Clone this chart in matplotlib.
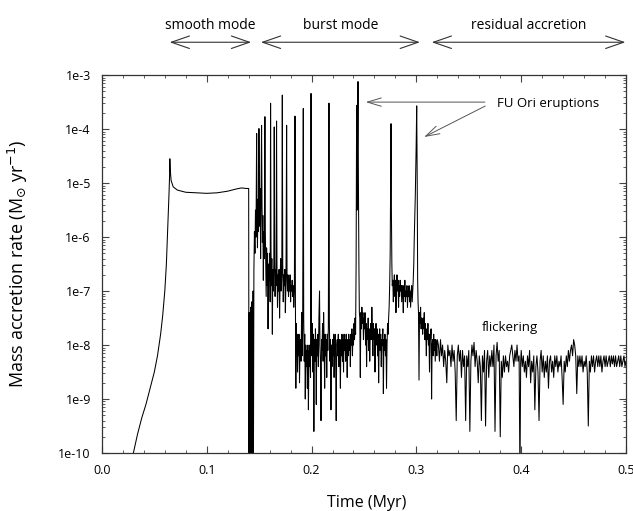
import numpy as np
import matplotlib
matplotlib.use("Agg")
import matplotlib.pyplot as plt
from matplotlib.ticker import MultipleLocator, LogLocator, NullFormatter
import matplotlib.transforms as mtransforms

# (time in Myr, log10 of accretion rate in Msun/yr)
smooth_pts = [
    (0.030, -10.0), (0.034, -9.65), (0.038, -9.35), (0.042, -9.1), (0.046, -8.8),
    (0.050, -8.5), (0.053, -8.2), (0.056, -7.8), (0.058, -7.45), (0.060, -7.0),
    (0.0615, -6.5), (0.0625, -6.0), (0.0635, -5.5), (0.064, -5.2), (0.0645, -4.9),
    (0.0648, -4.55), (0.0652, -4.75), (0.066, -4.95), (0.068, -5.07), (0.072, -5.13),
    (0.080, -5.17), (0.090, -5.18), (0.100, -5.19), (0.110, -5.18), (0.120, -5.15),
    (0.128, -5.11), (0.133, -5.09), (0.138, -5.10), (0.1400, -5.10), (0.1402, -10.5),
]

burst_pts = [
    (0.1403, -10.5), (0.1406, -7.4), (0.1409, -10.5), (0.1412, -7.6), (0.1415, -10.5),
    (0.1418, -7.3), (0.1421, -10.5), (0.1424, -7.5), (0.1427, -10.5), (0.1430, -7.2),
    (0.1433, -10.5), (0.1436, -7.4), (0.1439, -10.5), (0.1442, -7.0), (0.1445, -10.5),
    (0.1450, -6.6), (0.1455, -5.9), (0.1460, -6.3), (0.1465, -5.5), (0.1470, -6.0),
    (0.1476, -4.08), (0.1480, -5.6), (0.1484, -6.2), (0.1488, -5.3), (0.1493, -5.9),
    (0.1498, -3.99), (0.1502, -5.2), (0.1506, -5.8), (0.1510, -5.1), (0.1514, -6.4),
    (0.1518, -5.4), (0.1523, -3.93), (0.1527, -5.3), (0.1531, -6.1), (0.1535, -5.6),
    (0.1540, -6.8), (0.1544, -5.9), (0.1549, -6.4), (0.1555, -3.77), (0.1559, -5.9),
    (0.1563, -6.5), (0.1567, -7.1), (0.1571, -6.2), (0.1576, -6.9), (0.1580, -6.3),
    (0.1585, -7.7), (0.1590, -6.5), (0.1595, -6.8), (0.1600, -6.3), (0.1605, -7.2),
    (0.1609, -3.52), (0.1613, -6.2), (0.1617, -6.9), (0.1621, -6.4), (0.1626, -7.8),
    (0.1630, -6.6), (0.1635, -7.0), (0.1640, -6.5), (0.1644, -3.96), (0.1648, -6.4),
    (0.1652, -7.1), (0.1656, -6.6), (0.1661, -6.9), (0.1666, -3.85), (0.1670, -6.5),
    (0.1675, -7.3), (0.1680, -6.7), (0.1685, -7.0), (0.1690, -6.6), (0.1695, -7.5),
    (0.1700, -6.8), (0.1705, -6.4), (0.1710, -7.0), (0.1716, -6.7), (0.1721, -3.37),
    (0.1725, -6.5), (0.1730, -7.2), (0.1735, -6.7), (0.1740, -6.9), (0.1745, -6.6),
    (0.1750, -7.4), (0.1756, -6.8), (0.1762, -3.93), (0.1766, -6.7), (0.1770, -7.0),
    (0.1775, -6.7), (0.1780, -7.1), (0.1785, -6.8), (0.1790, -7.0), (0.1795, -6.7),
    (0.1800, -7.2), (0.1805, -6.9), (0.1810, -7.0), (0.1815, -6.8), (0.1820, -7.1),
    (0.1825, -6.9), (0.1830, -7.3), (0.1836, -7.0), (0.1842, -3.76), (0.1846, -7.2),
    (0.1850, -8.8), (0.1854, -7.6), (0.1858, -8.0), (0.1862, -7.8), (0.1866, -8.5),
    (0.1870, -7.9), (0.1875, -8.2), (0.1880, -7.8), (0.1885, -8.7), (0.1890, -8.0),
    (0.1895, -7.9), (0.1900, -8.3), (0.1905, -7.4), (0.1910, -8.2), (0.1915, -7.7),
    (0.1921, -3.62), (0.1925, -7.5), (0.1930, -8.3), (0.1935, -7.8), (0.1940, -9.0),
    (0.1945, -8.0), (0.1950, -8.4), (0.1955, -8.1), (0.1960, -8.8), (0.1965, -8.0),
    (0.1970, -9.2), (0.1975, -8.1), (0.1980, -8.4), (0.1985, -8.0), (0.1990, -8.6),
    (0.1995, -3.34), (0.1999, -7.7), (0.2003, -8.2), (0.2008, -7.6), (0.2012, -8.5),
    (0.2017, -7.8), (0.2022, -9.6), (0.2027, -7.9), (0.2032, -8.3), (0.2037, -7.7),
    (0.2040, -8.0), (0.2045, -9.1), (0.2050, -7.9), (0.2055, -8.2), (0.2060, -7.8),
    (0.2065, -8.4), (0.2070, -7.5), (0.2076, -7.0), (0.2080, -8.0), (0.2085, -8.3),
    (0.2090, -9.4), (0.2095, -7.9), (0.2100, -8.1), (0.2105, -7.6), (0.2110, -8.3),
    (0.2115, -7.4), (0.2120, -8.0), (0.2125, -8.8), (0.2130, -7.8), (0.2135, -8.2),
    (0.2140, -7.9), (0.2145, -8.6), (0.2150, -7.8), (0.2155, -8.1), (0.2160, -7.7),
    (0.2166, -3.52), (0.2170, -7.6), (0.2175, -8.3), (0.2180, -7.9), (0.2185, -9.2),
    (0.2190, -8.0), (0.2195, -8.4), (0.2200, -7.9), (0.2205, -8.2), (0.2210, -7.8),
    (0.2215, -8.6), (0.2220, -8.0), (0.2225, -7.8), (0.2230, -8.3), (0.2235, -9.4),
    (0.2240, -8.0), (0.2245, -7.9), (0.2250, -8.2), (0.2255, -7.8), (0.2260, -8.4),
    (0.2265, -7.9), (0.2270, -8.1), (0.2275, -8.8), (0.2280, -7.9), (0.2285, -8.2),
    (0.2290, -7.8), (0.2295, -8.3), (0.2300, -7.9), (0.2305, -8.5), (0.2310, -7.8),
    (0.2315, -8.1), (0.2320, -7.9), (0.2325, -8.3), (0.2330, -7.8), (0.2335, -8.0),
    (0.2340, -8.6), (0.2345, -7.9), (0.2350, -8.2), (0.2355, -7.8), (0.2360, -8.1),
    (0.2365, -7.9), (0.2370, -8.4), (0.2375, -7.8), (0.2380, -8.0), (0.2385, -7.7),
    (0.2390, -8.2), (0.2395, -7.8), (0.2400, -8.0), (0.2405, -7.6), (0.2410, -7.9),
    (0.2415, -7.5), (0.2420, -7.8), (0.2425, -6.5), (0.2430, -3.56), (0.2434, -5.5),
    (0.2437, -4.8), (0.2440, -3.9), (0.2443, -3.12), (0.2447, -5.0), (0.2452, -6.6),
    (0.2456, -7.4), (0.2460, -7.5), (0.2465, -8.6), (0.2470, -7.4), (0.2475, -7.7),
    (0.2480, -7.3), (0.2485, -7.6), (0.2490, -7.4), (0.2495, -7.9), (0.2500, -7.5),
    (0.2505, -7.7), (0.2510, -7.4), (0.2515, -8.0), (0.2520, -7.6), (0.2525, -8.4),
    (0.2530, -7.7), (0.2535, -7.9), (0.2540, -7.5), (0.2545, -8.1), (0.2550, -7.7),
    (0.2555, -8.3), (0.2560, -7.8), (0.2565, -7.6), (0.2570, -7.9), (0.2575, -7.3),
    (0.2580, -7.7), (0.2585, -8.2), (0.2590, -7.6), (0.2595, -7.9), (0.2600, -7.7),
    (0.2605, -8.5), (0.2610, -7.8), (0.2615, -7.6), (0.2620, -8.0), (0.2625, -7.7),
    (0.2630, -8.2), (0.2635, -7.8), (0.2640, -8.7), (0.2645, -7.9), (0.2650, -7.7),
    (0.2655, -8.1), (0.2660, -7.8), (0.2665, -8.4), (0.2670, -7.9), (0.2675, -8.0),
    (0.2680, -7.7), (0.2685, -8.9), (0.2690, -7.9), (0.2695, -8.1), (0.2700, -7.8),
    (0.2705, -8.2), (0.2710, -7.9), (0.2715, -8.8), (0.2720, -8.0), (0.2725, -7.6),
    (0.2730, -7.8), (0.2735, -7.5), (0.2740, -7.3), (0.2745, -6.9), (0.2750, -6.3),
    (0.2755, -4.8), (0.2758, -3.90), (0.2762, -5.6), (0.2766, -6.5), (0.2770, -6.9),
    (0.2775, -6.8), (0.2780, -7.2), (0.2785, -6.9), (0.2790, -6.7), (0.2795, -7.1),
    (0.2800, -6.8), (0.2805, -7.4), (0.2810, -6.9), (0.2815, -6.7), (0.2820, -7.0),
    (0.2825, -6.8), (0.2830, -7.3), (0.2835, -6.9), (0.2840, -7.1), (0.2845, -6.8),
    (0.2850, -7.0), (0.2855, -6.9), (0.2860, -7.2), (0.2865, -6.9), (0.2870, -7.0),
    (0.2875, -7.4), (0.2880, -6.9), (0.2885, -7.1), (0.2890, -6.8), (0.2895, -7.2),
    (0.2900, -7.0), (0.2905, -7.1), (0.2910, -6.9), (0.2915, -7.3), (0.2920, -7.0),
    (0.2925, -7.1), (0.2930, -6.9), (0.2935, -7.2), (0.2940, -7.0), (0.2945, -7.3),
    (0.2950, -7.0), (0.2955, -6.9), (0.2960, -7.2), (0.2965, -7.0), (0.2970, -6.8),
    (0.2975, -6.5), (0.2980, -6.0), (0.2990, -5.2), (0.2998, -4.3), (0.3003, -3.57),
    (0.3008, -5.0), (0.3012, -6.8), (0.3016, -7.2), (0.3020, -7.4), (0.3025, -8.65),
    (0.3030, -7.4), (0.3035, -7.6), (0.3040, -7.3), (0.3045, -7.7), (0.3050, -7.5),
    (0.3055, -7.6), (0.3060, -7.8), (0.3065, -7.5), (0.3070, -7.7), (0.3075, -7.4),
    (0.3080, -7.9), (0.3085, -7.6), (0.3090, -7.8), (0.3095, -8.2), (0.3100, -7.7),
    (0.3105, -7.9), (0.3110, -7.6), (0.3115, -8.0), (0.3120, -7.8), (0.3125, -8.5),
    (0.3130, -7.8), (0.3135, -7.9), (0.3140, -7.7), (0.3145, -9.0), (0.3150, -8.0),
    (0.3155, -7.9), (0.3160, -8.2), (0.3165, -7.8), (0.3170, -8.1), (0.3175, -7.9),
    (0.3180, -8.3), (0.3185, -7.9), (0.3190, -8.0), (0.3195, -8.2), (0.3200, -7.9),
]

residual_pts = [
    (0.321, -8.0), (0.322, -8.3), (0.323, -7.9), (0.324, -8.2), (0.325, -8.0),
    (0.326, -8.4), (0.327, -8.1), (0.328, -8.3), (0.329, -8.7), (0.330, -8.0),
    (0.331, -8.2), (0.332, -8.1), (0.333, -8.4), (0.334, -8.0), (0.335, -8.3),
    (0.336, -8.1), (0.337, -8.5), (0.338, -9.4), (0.339, -8.2), (0.340, -8.0),
    (0.341, -8.3), (0.342, -8.1), (0.343, -8.6), (0.344, -8.1), (0.345, -8.4),
    (0.346, -8.2), (0.347, -9.4), (0.348, -8.2), (0.349, -8.4), (0.350, -8.1),
    (0.351, -9.6), (0.352, -8.3), (0.353, -8.0), (0.354, -8.2), (0.355, -7.95),
    (0.356, -8.4), (0.357, -8.1), (0.358, -8.3), (0.359, -8.7), (0.360, -8.2),
    (0.361, -8.4), (0.362, -9.4), (0.363, -8.2), (0.364, -8.5), (0.365, -8.1),
    (0.366, -9.5), (0.367, -8.3), (0.368, -8.1), (0.369, -8.6), (0.370, -8.2),
    (0.371, -8.4), (0.372, -8.1), (0.373, -8.4), (0.374, -8.0), (0.375, -9.6),
    (0.376, -8.2), (0.377, -7.95), (0.378, -8.3), (0.379, -8.1), (0.380, -9.7),
    (0.381, -8.3), (0.382, -8.6), (0.383, -8.2), (0.384, -8.5), (0.385, -8.2),
    (0.386, -8.4), (0.387, -8.3), (0.388, -8.5), (0.389, -8.2), (0.390, -8.1),
    (0.391, -8.0), (0.392, -8.2), (0.393, -8.4), (0.394, -8.1), (0.395, -8.3),
    (0.396, -8.0), (0.397, -8.3), (0.398, -8.2), (0.3988, -10.5), (0.3995, -8.3),
    (0.400, -8.1), (0.401, -8.4), (0.402, -8.2), (0.403, -8.5), (0.404, -8.3),
    (0.405, -8.6), (0.406, -8.2), (0.407, -8.4), (0.408, -8.1), (0.409, -8.7),
    (0.410, -8.3), (0.411, -8.5), (0.412, -8.2), (0.413, -9.2), (0.414, -8.4),
    (0.415, -8.2), (0.416, -8.5), (0.417, -9.4), (0.418, -8.3), (0.419, -8.1),
    (0.420, -8.5), (0.421, -8.2), (0.422, -8.6), (0.423, -8.3), (0.424, -8.5),
    (0.425, -8.2), (0.426, -8.8), (0.427, -8.3), (0.428, -8.2), (0.429, -8.5),
    (0.430, -8.3), (0.431, -8.6), (0.432, -8.2), (0.433, -8.4), (0.434, -8.2),
    (0.435, -8.5), (0.436, -8.3), (0.437, -8.4), (0.438, -8.2), (0.439, -8.6),
    (0.440, -9.1), (0.441, -8.3), (0.442, -8.5), (0.443, -8.2), (0.444, -8.4),
    (0.445, -8.1), (0.446, -8.3), (0.447, -8.1), (0.448, -8.0), (0.449, -8.2),
    (0.450, -7.9), (0.451, -8.0), (0.452, -8.2), (0.453, -8.9), (0.454, -8.2),
    (0.455, -8.4), (0.456, -8.2), (0.457, -8.4), (0.458, -8.2), (0.459, -8.5),
    (0.460, -8.3), (0.461, -8.4), (0.462, -8.2), (0.463, -8.5), (0.464, -9.5),
    (0.465, -8.3), (0.466, -8.5), (0.467, -8.2), (0.468, -8.4), (0.469, -8.2),
    (0.470, -8.5), (0.471, -8.3), (0.472, -8.2), (0.473, -8.4), (0.474, -8.2),
    (0.475, -8.4), (0.476, -8.2), (0.477, -8.5), (0.478, -8.3), (0.479, -8.2),
    (0.480, -8.4), (0.481, -8.2), (0.482, -8.4), (0.483, -8.3), (0.484, -8.2),
    (0.485, -8.4), (0.486, -8.2), (0.487, -8.35), (0.488, -8.2), (0.489, -8.4),
    (0.490, -8.2), (0.491, -8.4), (0.492, -8.3), (0.493, -8.2), (0.494, -8.4),
    (0.495, -8.2), (0.496, -8.4), (0.497, -8.3), (0.498, -8.2), (0.499, -8.4),
    (0.500, -8.3),
]

ytick_vals = [1e-10, 1e-9, 1e-8, 1e-7, 1e-6, 1e-5, 1e-4, 1e-3]
ytick_labels = ['1e-10', '1e-9', '1e-8', '1e-7', '1e-6', '1e-5', '1e-4', '1e-3']
xtick_vals = [0.0, 0.1, 0.2, 0.3, 0.4, 0.5]
xtick_labels = ['0.0', '0.1', '0.2', '0.3', '0.4', '0.5']

# phases along the top: (label, start, end)
phases = [('smooth mode', 0.062, 0.145),
          ('burst mode', 0.149, 0.306),
          ('residual accretion', 0.312, 0.502)]

plt.rcParams['font.family'] = ['Open Sans', 'DejaVu Sans']

pts = np.array(smooth_pts + burst_pts + residual_pts)
t = pts[:, 0]
mdot = 10 ** pts[:, 1]

fig = plt.figure(figsize=(6.33, 5.11), dpi=100)
ax = fig.add_axes([0.161, 0.1135, 0.989 - 0.161, 0.853 - 0.1135])
ax.plot(t, mdot, color='black', lw=0.75)

ax.set_yscale('log')
ax.set_xlim(0, 0.5)
ax.set_ylim(1e-10, 1e-3)
ax.set_yticks(ytick_vals)
ax.set_yticklabels(ytick_labels)
ax.yaxis.set_minor_locator(LogLocator(base=10, subs=np.arange(2, 10)))
ax.yaxis.set_minor_formatter(NullFormatter())
ax.set_xticks(xtick_vals)
ax.set_xticklabels(xtick_labels)
ax.xaxis.set_minor_locator(MultipleLocator(0.02))
ax.tick_params(which='both', direction='in', top=True, right=True, labelsize=9, color='#444')
ax.tick_params(which='major', length=5, width=0.8)
ax.tick_params(which='minor', length=2.5, width=0.6)
ax.tick_params(axis='x', pad=8)
ax.tick_params(axis='y', pad=8)
for sp in ax.spines.values():
    sp.set_linewidth(0.9)
    sp.set_color('#333')

ax.set_xlabel('Time (Myr)', fontsize=11.5)
ax.xaxis.set_label_coords(0.506, -0.112)
ax.set_ylabel(r'Mass accretion rate (M$_{\odot}$ yr$^{-1}$)', fontsize=13)
ax.yaxis.set_label_coords(-0.137, 0.5)

# phase arrows above the axes
trans = mtransforms.blended_transform_factory(ax.transData, ax.transAxes)
for name, x0, x1 in phases:
    ax.annotate('', xy=(x0, 1.087), xytext=(x1, 1.087), xycoords=trans, textcoords=trans,
                arrowprops=dict(arrowstyle='<->,head_length=1.3,head_width=0.45', lw=0.8, color='#333'),
                annotation_clip=False)
    ax.text((x0 + x1) / 2, 1.13, name, transform=trans, ha='center', va='center', fontsize=10)

# FU Ori labels
ax.text(0.377, 10 ** -3.52, 'FU Ori eruptions', fontsize=9.5, va='center', ha='left')
ax.annotate('', xy=(0.249, 10 ** -3.5), xytext=(0.368, 10 ** -3.5),
            arrowprops=dict(arrowstyle='->,head_length=1.0,head_width=0.3', lw=0.7, color='#555'))
ax.annotate('', xy=(0.305, 10 ** -4.17), xytext=(0.368, 10 ** -3.55),
            arrowprops=dict(arrowstyle='->,head_length=1.0,head_width=0.3', lw=0.7, color='#555'))
ax.text(0.389, 10 ** -7.67, 'flickering', fontsize=9.5, ha='center', va='center')

fig.savefig('out.png', dpi=100)
